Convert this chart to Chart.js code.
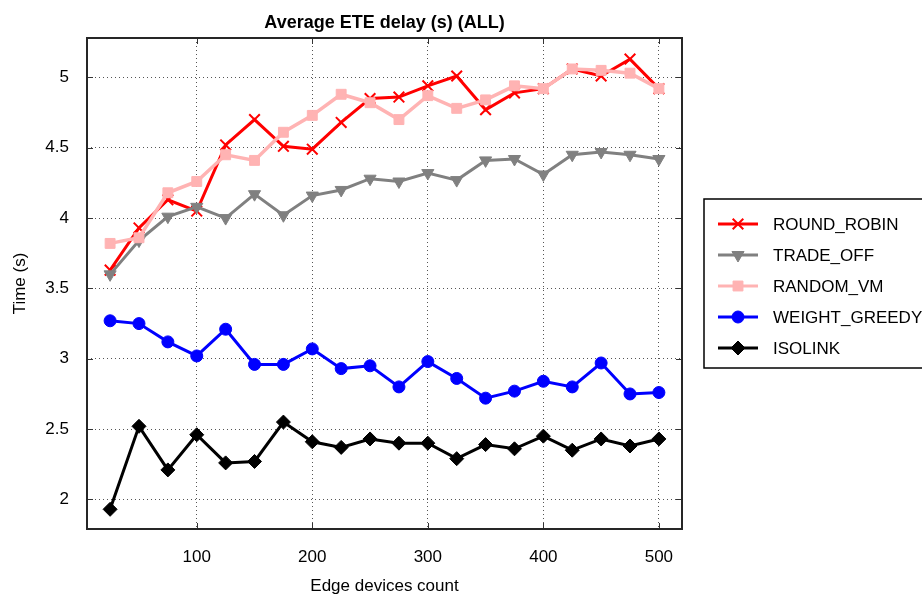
<!DOCTYPE html>
<html>
<head>
<meta charset="utf-8">
<script src="https://cdn.jsdelivr.net/npm/chart.js@4.4.1/dist/chart.umd.min.js"></script>
<style>
  body { margin: 0; background: #fff; }
  #wrap { width: 922px; height: 597px; }
</style>
</head>
<body>
<div id="wrap"><canvas id="myLineChart" width="922" height="597"></canvas></div>
<script>
// Edge devices count on the x axis
const devices = [25, 50, 75, 100, 125, 150, 175, 200, 225, 250, 275, 300, 325, 350, 375, 400, 425, 450, 475, 500];

// Average ETE delay (s) per policy
const roundRobin = [3.63, 3.93, 4.13, 4.05, 4.52, 4.70, 4.51, 4.49, 4.68, 4.85, 4.86, 4.94, 5.01, 4.77, 4.89, 4.92, 5.06, 5.01, 5.13, 4.92];
const tradeOff = [3.60, 3.84, 4.01, 4.08, 4.00, 4.17, 4.02, 4.16, 4.20, 4.28, 4.26, 4.32, 4.27, 4.41, 4.42, 4.31, 4.45, 4.47, 4.45, 4.42];
const randomVm = [3.82, 3.86, 4.18, 4.26, 4.45, 4.41, 4.61, 4.73, 4.88, 4.82, 4.70, 4.87, 4.78, 4.84, 4.94, 4.92, 5.06, 5.05, 5.03, 4.92];
const weightGreedy = [3.27, 3.25, 3.12, 3.02, 3.21, 2.96, 2.96, 3.07, 2.93, 2.95, 2.80, 2.98, 2.86, 2.72, 2.77, 2.84, 2.80, 2.97, 2.75, 2.76];
const isolink = [1.93, 2.52, 2.21, 2.46, 2.26, 2.27, 2.55, 2.41, 2.37, 2.43, 2.40, 2.40, 2.29, 2.39, 2.36, 2.45, 2.35, 2.43, 2.38, 2.43];

const seriesNames = ['ROUND_ROBIN', 'TRADE_OFF', 'RANDOM_VM', 'WEIGHT_GREEDY', 'ISOLINK'];
const xTicks = [100, 200, 300, 400, 500];
const yTicks = [2, 2.5, 3, 3.5, 4, 4.5, 5];

const FONT = '"Liberation Sans", Arial, sans-serif';

function toPoints(values) {
    return values.map((v, i) => ({ x: devices[i], y: v }));
}

function makeDataset(label, values, color, style, radius, order, extra) {
    return Object.assign({
        label: label,
        data: toPoints(values),
        borderColor: color,
        backgroundColor: color,
        borderWidth: 3,
        pointStyle: style,
        pointRadius: radius,
        pointHoverRadius: radius,
        pointBackgroundColor: color,
        pointBorderColor: color,
        pointBorderWidth: 1,
        tension: 0,
        order: order
    }, extra || {});
}

// outer box, inward tick marks and the legend on the right
const framePlugin = {
    id: 'frame',
    afterDraw(chart) {
        const ctx = chart.ctx;
        const a = chart.chartArea;
        const xs = chart.scales.x;
        const ys = chart.scales.y;
        ctx.save();
        ctx.strokeStyle = '#333';
        ctx.lineWidth = 1;
        xTicks.forEach(t => {
            const px = Math.round(xs.getPixelForValue(t)) + 0.5;
            ctx.beginPath();
            ctx.moveTo(px, a.bottom); ctx.lineTo(px, a.bottom - 6);
            ctx.moveTo(px, a.top); ctx.lineTo(px, a.top + 6);
            ctx.stroke();
        });
        yTicks.forEach(t => {
            const py = Math.round(ys.getPixelForValue(t)) + 0.5;
            ctx.beginPath();
            ctx.moveTo(a.left, py); ctx.lineTo(a.left + 6, py);
            ctx.moveTo(a.right, py); ctx.lineTo(a.right - 6, py);
            ctx.stroke();
        });
        ctx.strokeStyle = '#262626';
        ctx.lineWidth = 2;
        ctx.strokeRect(a.left, a.top, a.right - a.left, a.bottom - a.top);

        // legend
        ctx.strokeStyle = '#000';
        ctx.lineWidth = 1.5;
        ctx.strokeRect(704, 199, 260, 169);
        ctx.font = '17px ' + FONT;
        ctx.textBaseline = 'middle';
        ctx.textAlign = 'left';
        chart.data.datasets.forEach((ds, i) => {
            const y = 224 + i * 31;
            ctx.strokeStyle = ds.borderColor;
            ctx.fillStyle = ds.borderColor;
            ctx.lineWidth = 3;
            ctx.beginPath();
            ctx.moveTo(718, y); ctx.lineTo(758, y);
            ctx.stroke();
            ctx.lineWidth = ds.pointBorderWidth;
            Chart.helpers.drawPoint(ctx, {
                pointStyle: ds.pointStyle,
                rotation: ds.pointRotation || 0,
                radius: ds.pointRadius,
                borderWidth: ds.pointBorderWidth
            }, 738, y);
            ctx.fillStyle = '#000';
            ctx.fillText(ds.label, 773, y + 1);
        });
        ctx.restore();
    }
};

const ctx = document.getElementById('myLineChart');
const myLineChart = new Chart(ctx, {
    type: 'line',
    data: {
        datasets: [
            makeDataset(seriesNames[0], roundRobin, '#ff0000', 'crossRot', 7.5, 5, { pointBorderWidth: 2 }),
            makeDataset(seriesNames[1], tradeOff, '#808080', 'triangle', 7, 4, { pointRotation: 180 }),
            makeDataset(seriesNames[2], randomVm, '#ffb3b3', 'rect', 7, 3, { borderWidth: 3.5 }),
            makeDataset(seriesNames[3], weightGreedy, '#0000ff', 'circle', 6, 2),
            makeDataset(seriesNames[4], isolink, '#000000', 'rectRot', 7, 1)
        ]
    },
    options: {
        responsive: false,
        animation: false,
        layout: { padding: { left: 0, right: 240, top: 0, bottom: 0 } },
        scales: {
            x: {
                type: 'linear',
                min: 5,
                max: 520,
                afterBuildTicks: scale => { scale.ticks = xTicks.map(v => ({ value: v })); },
                afterFit: scale => { scale.height = 68; },
                grid: { color: '#555', lineWidth: 1, drawTicks: false },
                border: { display: false, dash: [1, 3] },
                ticks: { color: '#000', padding: 18, font: { family: FONT, size: 17 }, callback: v => String(v) },
                title: { display: true, text: 'Edge devices count', color: '#000', padding: { top: 0, bottom: 0 }, font: { family: FONT, size: 17 } }
            },
            y: {
                min: 1.79,
                max: 5.28,
                afterBuildTicks: scale => { scale.ticks = yTicks.map(v => ({ value: v })); },
                afterFit: scale => { scale.width = 87; },
                grid: { color: '#555', lineWidth: 1, drawTicks: false },
                border: { display: false, dash: [1, 3] },
                ticks: { color: '#000', padding: 18, font: { family: FONT, size: 17 }, callback: v => String(v) },
                title: { display: true, text: 'Time (s)', color: '#000', padding: { top: 10, bottom: 0 }, font: { family: FONT, size: 17 } }
            }
        },
        plugins: {
            legend: { display: false },
            tooltip: { enabled: false },
            title: {
                display: true,
                fullSize: false,
                text: 'Average ETE delay (s) (ALL)',
                color: '#000',
                padding: { top: 12, bottom: 4.4 },
                font: { family: FONT, size: 18, weight: 'bold' }
            }
        }
    },
    plugins: [framePlugin]
});
</script>
</body>
</html>
